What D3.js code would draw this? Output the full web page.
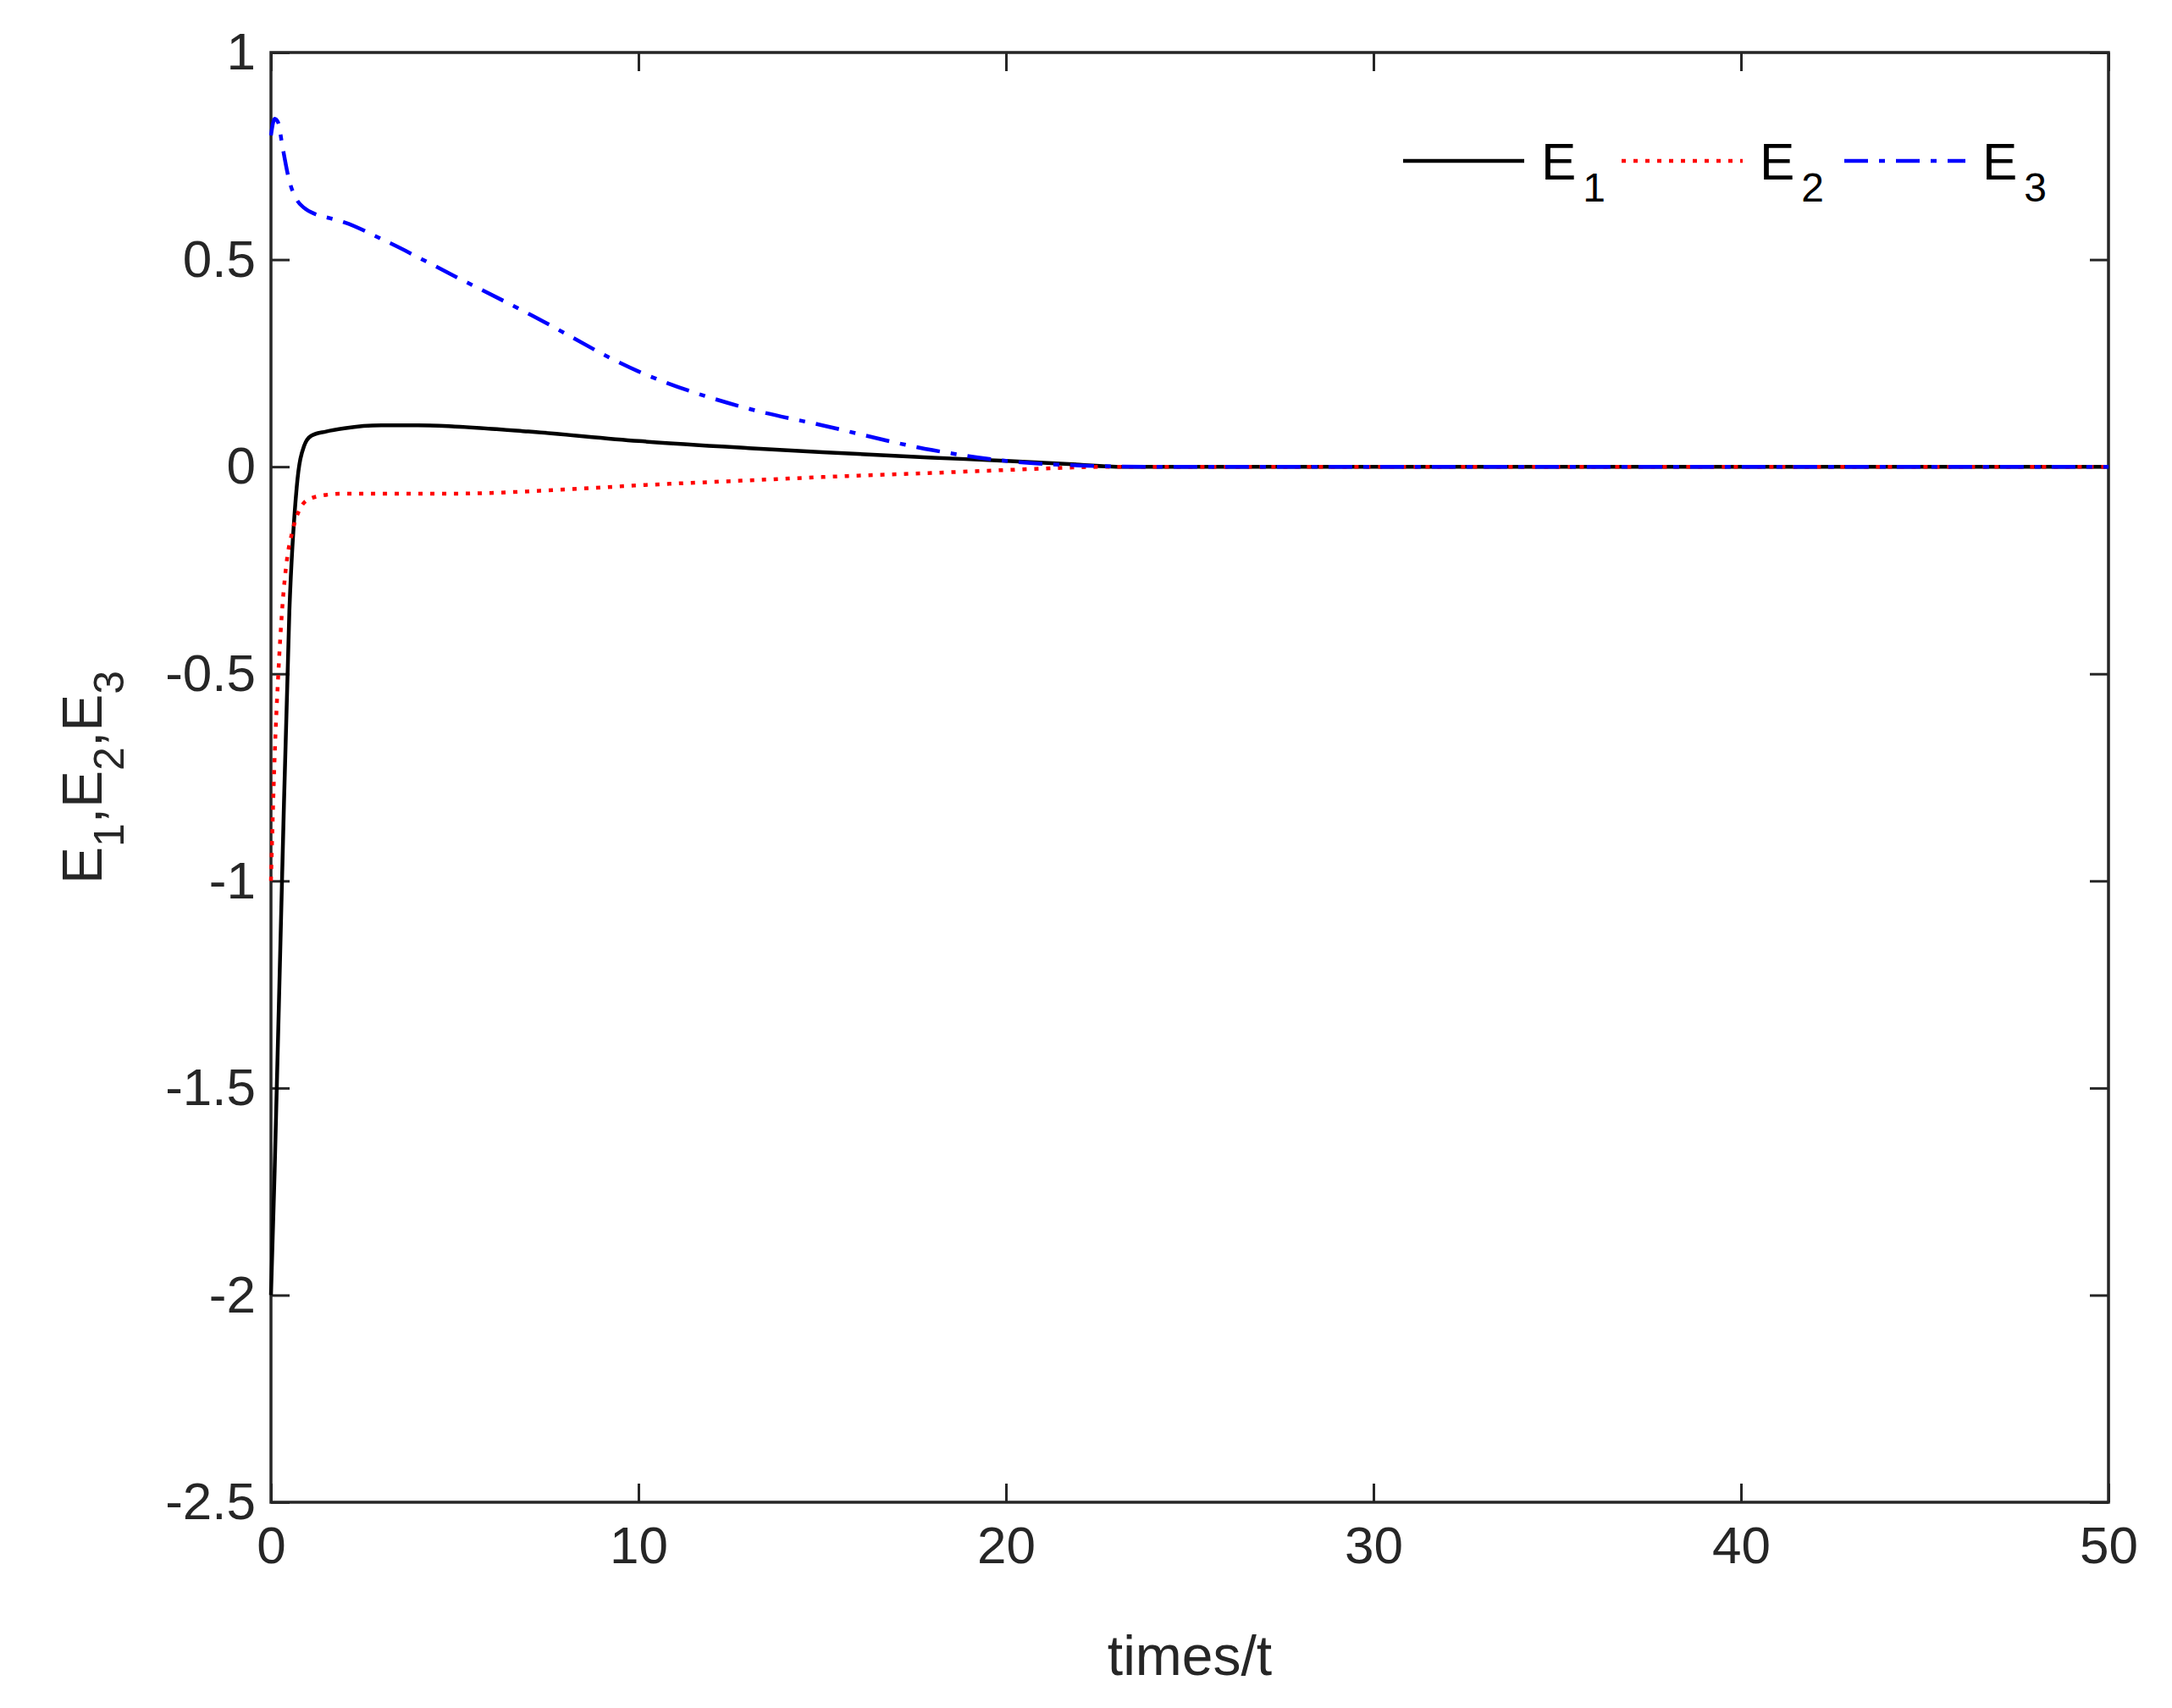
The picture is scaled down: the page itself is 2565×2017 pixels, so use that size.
<!DOCTYPE html><html><head><script src="https://cdn.jsdelivr.net/npm/d3@7"></script>
<style>body{margin:0;background:#fff}text{font-family:"Liberation Sans",Arial,sans-serif;fill:#262626}</style></head><body><script>
const t1=[0,0.1,0.3,0.5,0.7,0.9,1.1,1.5,2,3,4,5,7,10,13,15,18,20,22,23,30,40,50];
const e1=[-2,-1.7,-1,-0.35,-0.05,0.05,0.075,0.085,0.093,0.1,0.1,0.097,0.085,0.062,0.045,0.035,0.022,0.014,0.005,0,0,0,0];
const t2=[0,0.1,0.2,0.3,0.4,0.6,0.8,1,1.5,2,3,5,8,10,13,15,18,20,23,30,40,50];
const e2=[-1,-0.7,-0.5,-0.35,-0.25,-0.15,-0.1,-0.08,-0.068,-0.065,-0.065,-0.065,-0.055,-0.045,-0.033,-0.025,-0.015,-0.008,0,0,0,0];
const t3=[0,0.1,0.2,0.3,0.5,0.7,0.9,1.2,1.6,2,3,5,7,10,13,15,18,20,22,24,30,40,50];
const e3=[0.8,0.84,0.83,0.78,0.69,0.645,0.625,0.61,0.6,0.59,0.55,0.46,0.37,0.23,0.14,0.1,0.04,0.014,0.003,0,0,0,0];
const xTicks=[0,10,20,30,40,50], yTicks=[1,0.5,0,-0.5,-1,-1.5,-2,-2.5];
const W=2565,H=2017,L=320,R=2490,T=62,B=1774;
const svg=d3.select("body").append("svg").attr("width",W).attr("height",H);
const x=d3.scaleLinear().domain([0,50]).range([L,R]);
const y=d3.scaleLinear().domain([-2.5,1]).range([B,T]);
const fmt=d=>String(d);
svg.append("g").attr("transform",`translate(0,${B})`).call(d3.axisBottom(x).tickValues(xTicks).tickFormat(fmt).tickSizeInner(-22).tickSizeOuter(0).tickPadding(28));
svg.append("g").attr("transform",`translate(0,${T})`).call(d3.axisTop(x).tickValues(xTicks).tickFormat("").tickSizeInner(-22).tickSizeOuter(0));
svg.append("g").attr("transform",`translate(${L},0)`).call(d3.axisLeft(y).tickValues(yTicks).tickFormat(fmt).tickSizeInner(-22).tickSizeOuter(0).tickPadding(18));
svg.append("g").attr("transform",`translate(${R},0)`).call(d3.axisRight(y).tickValues(yTicks).tickFormat("").tickSizeInner(-22).tickSizeOuter(0));
svg.selectAll(".domain").remove();
svg.selectAll(".tick line").attr("stroke","#262626").attr("stroke-width",3);
svg.selectAll(".tick text").attr("font-size",62).style("fill","#262626");
svg.append("rect").attr("x",L).attr("y",T).attr("width",R-L).attr("height",B-T).attr("fill","none").attr("stroke","#262626").attr("stroke-width",3.5);
const line=d3.line().x(d=>x(d[0])).y(d=>y(d[1])).curve(d3.curveMonotoneX);
const series=[{t:t1,v:e1,c:"#000",da:null},{t:t2,v:e2,c:"#ff0000",da:"5,9"},{t:t3,v:e3,c:"#0000ff",da:"28,13,7,13"}];
series.forEach(s=>svg.append("path").datum(s.t.map((d,i)=>[d,s.v[i]])).attr("d",line).attr("fill","none").attr("stroke",s.c).attr("stroke-width",4.5).attr("stroke-dasharray",s.da));
const leg=[[1657,"E","1"],[1915,"E","2"],[2178,"E","3"]];
leg.forEach((l,i)=>{const s=series[i];
svg.append("line").attr("x1",l[0]).attr("x2",l[0]+143).attr("y1",190).attr("y2",190).attr("stroke",s.c).attr("stroke-width",4.5).attr("stroke-dasharray",s.da);
const tx=svg.append("text").attr("x",l[0]+163).attr("y",212).attr("font-size",62).style("fill","#000");
tx.append("tspan").text(l[1]);tx.append("tspan").attr("dx",8).attr("dy",26).attr("font-size",48).text(l[2]);});
svg.append("text").attr("x",(L+R)/2).attr("y",1978).attr("text-anchor","middle").attr("font-size",66).text("times/t");
const yl=svg.append("text").attr("transform",`translate(120,${(T+B)/2}) rotate(-90)`).attr("text-anchor","middle").attr("font-size",66);
[["E","1"],[",E","2"],[",E","3"]].forEach((p,i)=>{yl.append("tspan").attr("dy",i?-26:0).text(p[0]);yl.append("tspan").attr("dy",26).attr("font-size",50).text(p[1]);});
</script></body></html>
